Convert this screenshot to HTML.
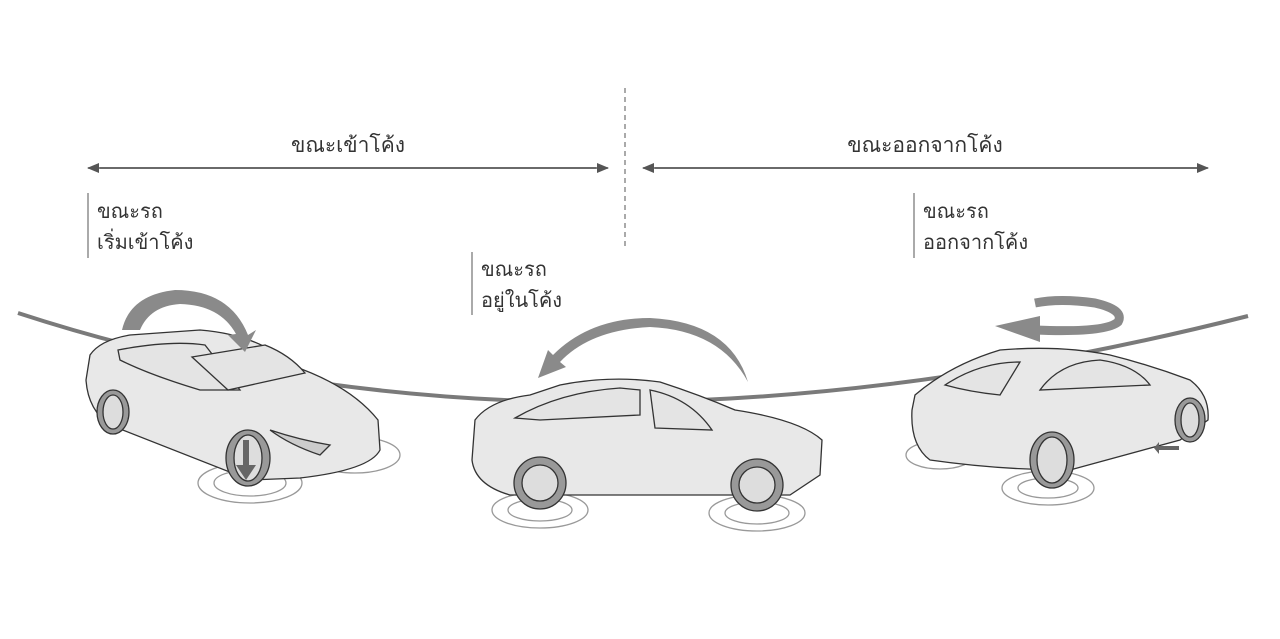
<!DOCTYPE html>
<html><head><meta charset="utf-8"><style>
html,body{margin:0;padding:0;background:#fff;width:1280px;height:639px;overflow:hidden}
svg{display:block}
text{font-family:"Liberation Sans","DejaVu Sans",sans-serif;fill:#333}
</style></head><body>
<svg width="1280" height="639" viewBox="0 0 1280 639" xmlns="http://www.w3.org/2000/svg">
<defs>
<marker id="ah" markerWidth="12" markerHeight="10" refX="11" refY="5" orient="auto" markerUnits="userSpaceOnUse"><path d="M0,0 L12,5 L0,10 Z" fill="#555"/></marker>
</defs>
<line x1="625" y1="88" x2="625" y2="248" stroke="#555" stroke-width="1" stroke-dasharray="5,4"/>
<line x1="100" y1="168" x2="608" y2="168" stroke="#555" stroke-width="1.5" marker-end="url(#ah)"/>
<line x1="596" y1="168" x2="88" y2="168" stroke="#555" stroke-width="1.5" marker-end="url(#ah)"/>
<line x1="655" y1="168" x2="1208" y2="168" stroke="#555" stroke-width="1.5" marker-end="url(#ah)"/>
<line x1="1200" y1="168" x2="643" y2="168" stroke="#555" stroke-width="1.5" marker-end="url(#ah)"/>
<text x="348" y="152" font-size="21" text-anchor="middle">ขณะเข้าโค้ง</text>
<text x="925" y="152" font-size="21" text-anchor="middle">ขณะออกจากโค้ง</text>
<line x1="88" y1="193" x2="88" y2="258" stroke="#555" stroke-width="1"/>
<text x="97" y="218" font-size="20">ขณะรถ</text>
<text x="97" y="249" font-size="20">เริ่มเข้าโค้ง</text>
<line x1="472" y1="252" x2="472" y2="315" stroke="#555" stroke-width="1"/>
<text x="481" y="276" font-size="20">ขณะรถ</text>
<text x="481" y="307" font-size="20">อยู่ในโค้ง</text>
<line x1="914" y1="193" x2="914" y2="258" stroke="#555" stroke-width="1"/>
<text x="923" y="218" font-size="20">ขณะรถ</text>
<text x="923" y="249" font-size="20">ออกจากโค้ง</text>
<path d="M18,313 Q560,490 1248,316" fill="none" stroke="#7a7a7a" stroke-width="4"/>

<!-- Car 1 -->
<g stroke="#333" stroke-width="1.3">
<ellipse cx="250" cy="483" rx="52" ry="20" fill="none" stroke="#999"/>
<ellipse cx="250" cy="483" rx="36" ry="13" fill="none" stroke="#999"/>
<ellipse cx="355" cy="455" rx="45" ry="18" fill="none" stroke="#999"/>
<path d="M90,355 Q100,340 130,335 L200,330 Q260,335 290,365 Q350,385 378,420 L380,450 Q370,470 300,478 L250,480 L110,425 Q88,410 86,380 Z" fill="#e8e8e8"/>
<path d="M118,350 Q170,340 205,345 L240,390 L200,390 Q150,375 120,360 Z" fill="#e4e4e4"/>
<path d="M192,357 L265,345 Q290,355 305,373 L228,390 Z" fill="#e4e4e4"/>
<ellipse cx="113" cy="412" rx="16" ry="22" fill="#999"/>
<ellipse cx="113" cy="412" rx="10" ry="17" fill="#ddd"/>
<ellipse cx="248" cy="458" rx="22" ry="28" fill="#999"/>
<ellipse cx="248" cy="458" rx="14" ry="23" fill="#ddd"/>
<path d="M270,430 Q300,440 330,445 L320,455 Q290,445 270,430" fill="#ccc"/>
</g>
<path d="M243,440 L243,465 L236,465 L246,480 L256,465 L249,465 L249,440 Z" fill="#666"/>
<path d="M122,330 Q130,295 175,290 Q230,290 248,335 L256,330 L245,352 L228,335 L236,334 Q220,305 180,304 Q150,306 140,330 Z" fill="#8a8a8a"/>

<!-- Car 2 -->
<g stroke="#333" stroke-width="1.3">
<ellipse cx="540" cy="510" rx="48" ry="18" fill="none" stroke="#999"/>
<ellipse cx="540" cy="510" rx="32" ry="11" fill="none" stroke="#999"/>
<ellipse cx="757" cy="513" rx="48" ry="18" fill="none" stroke="#999"/>
<ellipse cx="757" cy="513" rx="32" ry="11" fill="none" stroke="#999"/>
<path d="M475,420 Q490,400 530,395 L560,385 Q610,375 660,382 Q700,395 735,410 Q800,420 822,440 L820,475 L790,495 L510,495 Q475,485 472,460 Z" fill="#e8e8e8"/>
<path d="M515,418 Q560,392 620,388 L640,390 L640,415 L540,420 Z" fill="#e4e4e4"/>
<path d="M650,390 Q690,398 712,430 L655,428 Z" fill="#e4e4e4"/>
<circle cx="540" cy="483" r="26" fill="#999"/>
<circle cx="540" cy="483" r="18" fill="#ddd"/>
<circle cx="757" cy="485" r="26" fill="#999"/>
<circle cx="757" cy="485" r="18" fill="#ddd"/>
</g>
<path d="M748,382 Q720,330 650,327 Q590,330 560,362 L566,367 L538,378 L548,350 L553,355 Q590,318 650,318 Q730,322 748,382 Z" fill="#8a8a8a"/>

<!-- Car 3 -->
<g stroke="#333" stroke-width="1.3">
<ellipse cx="940" cy="455" rx="34" ry="14" fill="none" stroke="#999"/>
<ellipse cx="1048" cy="488" rx="46" ry="17" fill="none" stroke="#999"/>
<ellipse cx="1048" cy="488" rx="30" ry="10" fill="none" stroke="#999"/>
<path d="M915,395 Q950,365 1000,350 Q1060,345 1110,355 Q1150,365 1190,380 Q1210,395 1208,420 L1180,440 L1070,470 Q1000,470 930,460 Q910,445 912,410 Z" fill="#e8e8e8"/>
<path d="M945,385 Q980,362 1020,362 L1000,395 Q970,392 945,385 Z" fill="#e4e4e4"/>
<path d="M1040,390 Q1060,362 1100,360 Q1135,365 1150,385 Z" fill="#e4e4e4"/>
<ellipse cx="1052" cy="460" rx="22" ry="28" fill="#999"/>
<ellipse cx="1052" cy="460" rx="15" ry="23" fill="#ddd"/>
<ellipse cx="1190" cy="420" rx="15" ry="22" fill="#999"/>
<ellipse cx="1190" cy="420" rx="9" ry="17" fill="#ddd"/>
</g>
<path d="M1155,446 L1175,446 L1175,442 L1180,448 L1175,454 L1175,450 L1155,450 Z" fill="#666" transform="rotate(180 1167 448)"/>
<path d="M1035,303 Q1060,298 1095,303 Q1125,310 1118,322 Q1105,333 1035,330" fill="none" stroke="#8a8a8a" stroke-width="9"/>
<path d="M1040,316 L1040,342 L995,326 Z" fill="#8a8a8a"/>
</svg>
</body></html>
